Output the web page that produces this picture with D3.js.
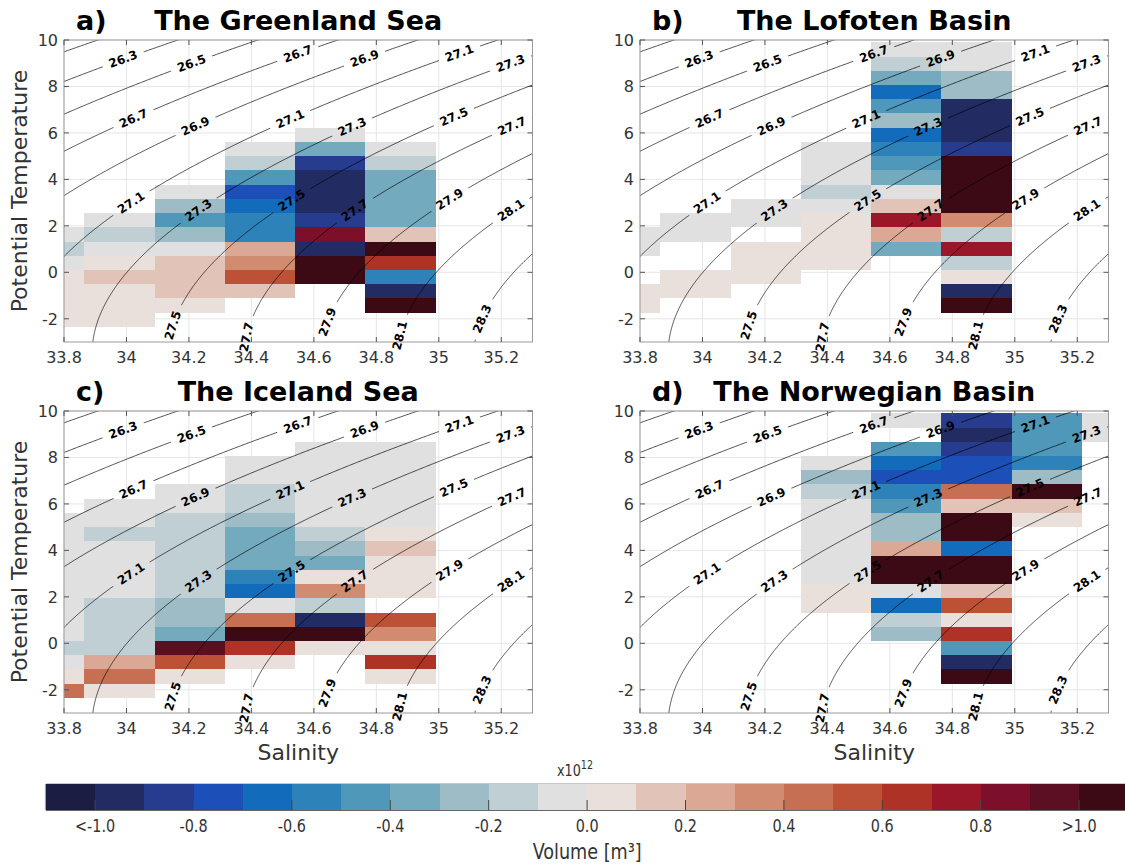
<!DOCTYPE html>
<html>
<head>
<meta charset="utf-8">
<script src="https://cdn.jsdelivr.net/npm/d3@7/dist/d3.min.js"></script>
<style>
  html, body { margin: 0; padding: 0; background: #fff; }
  svg { display: block; }
  text { font-family: "DejaVu Sans", sans-serif; }
</style>
</head>
<body>
<svg id="chart" width="1125" height="864"></svg>
<script>
// ---- T–S bin edges -------------------------------------------------------
const salinityEdges = [33.64, 33.865, 34.09, 34.315, 34.54, 34.765, 34.99, 35.215, 35.44];
const temperatureEdges = [-2.35, -1.7375, -1.125, -0.5125, 0.1, 0.7125, 1.325, 1.9375, 2.55,
  3.1625, 3.775, 4.3875, 5.0, 5.6125, 6.225, 6.8375, 7.45, 8.0625, 8.675, 9.2875, 9.9];

// ---- Volume change per bin (x10^12 m^3) ----------------------------------
// one row per temperature bin, warmest first; one column per salinity bin
const greenlandVolume = [
  [null, null, null, null, null, null, null, null],
  [null, null, null, null, null, null, null, null],
  [null, null, null, null, null, null, null, null],
  [null, null, null, null, null, null, null, null],
  [null, null, null, null, null, null, null, null],
  [null, null, null, null, null, null, null, null],
  [null, null, null, null, -0.05, null, null, null],
  [null, null, null, -0.05, -0.35, -0.05, null, null],
  [null, null, null, -0.15, -0.85, -0.15, null, null],
  [null, null, null, -0.45, -0.95, -0.35, null, null],
  [null, null, -0.05, -0.75, -0.95, -0.35, null, null],
  [null, null, -0.25, -0.65, -0.95, -0.35, null, null],
  [null, -0.05, -0.45, -0.55, -0.85, -0.35, null, null],
  [-0.05, -0.15, -0.25, -0.55, 0.85, 0.15, null, null],
  [-0.15, -0.05, -0.05, 0.25, -0.95, 1.2, null, null],
  [-0.05, 0.05, 0.15, 0.35, 1.2, 0.65, null, null],
  [0.05, 0.15, 0.15, 0.55, 1.2, -0.55, null, null],
  [0.05, 0.05, 0.15, 0.15, null, -0.95, null, null],
  [0.05, 0.05, 0.05, null, null, 1.2, null, null],
  [0.05, 0.05, null, null, null, null, null, null]
];
const lofotenVolume = [
  [null, null, null, null, -0.05, -0.05, null, null],
  [null, null, null, null, -0.15, -0.05, null, null],
  [null, null, null, null, -0.35, -0.25, null, null],
  [null, null, null, null, -0.65, -0.25, null, null],
  [null, null, null, null, -0.45, -0.95, null, null],
  [null, null, null, null, -0.25, -0.95, null, null],
  [null, null, null, null, -0.65, -0.95, null, null],
  [null, null, null, -0.05, -0.55, -0.85, null, null],
  [null, null, null, -0.05, -0.45, 1.2, null, null],
  [null, null, null, -0.05, -0.35, 1.2, null, null],
  [null, null, null, -0.15, -0.05, 1.2, null, null],
  [null, null, -0.05, -0.05, 0.15, 1.2, null, null],
  [null, -0.05, -0.05, 0.05, 0.75, 0.35, null, null],
  [-0.05, -0.05, null, 0.05, 0.25, -0.15, null, null],
  [-0.05, null, 0.05, 0.05, -0.35, 0.75, null, null],
  [null, null, 0.05, 0.05, null, -0.15, null, null],
  [null, 0.05, 0.05, null, null, 0.05, null, null],
  [0.05, 0.05, null, null, null, -0.95, null, null],
  [0.05, null, null, null, null, 1.2, null, null],
  [null, null, null, null, null, null, null, null]
];
const icelandVolume = [
  [null, null, null, null, null, null, null, null],
  [null, null, null, null, null, null, null, null],
  [null, null, null, null, -0.05, -0.05, null, null],
  [null, null, null, -0.05, -0.05, -0.05, null, null],
  [null, null, null, -0.05, -0.05, -0.05, null, null],
  [null, null, -0.05, -0.15, -0.05, -0.05, null, null],
  [null, -0.05, -0.05, -0.15, -0.05, -0.05, null, null],
  [-0.05, -0.05, -0.15, -0.25, -0.05, -0.05, null, null],
  [-0.05, -0.15, -0.15, -0.35, -0.15, 0.05, null, null],
  [-0.05, -0.05, -0.15, -0.35, -0.25, 0.15, null, null],
  [-0.05, -0.05, -0.15, -0.35, -0.35, 0.05, null, null],
  [-0.05, -0.05, -0.15, -0.55, 0.05, 0.05, null, null],
  [-0.05, -0.05, -0.15, -0.65, 0.35, 0.05, null, null],
  [-0.05, -0.15, -0.25, -0.05, -0.15, null, null, null],
  [-0.05, -0.15, -0.25, 0.45, -0.95, 0.55, null, null],
  [-0.05, -0.15, -0.35, 1.2, 1.2, 0.35, null, null],
  [-0.15, -0.15, 0.95, 0.65, 0.05, 0.05, null, null],
  [-0.05, 0.25, 0.55, 0.05, null, 0.65, null, null],
  [0.05, 0.45, 0.05, null, null, 0.05, null, null],
  [0.45, 0.05, null, null, null, null, null, null]
];
const norwegianVolume = [
  [null, null, null, null, -0.05, -0.85, -0.45, -0.05],
  [null, null, null, null, null, -0.95, -0.45, -0.05],
  [null, null, null, null, -0.45, -0.85, -0.45, null],
  [null, null, null, -0.05, -0.65, -0.75, -0.55, null],
  [null, null, null, -0.25, -0.75, -0.75, -0.25, null],
  [null, null, null, -0.15, -0.55, 0.45, 1.2, null],
  [null, null, null, -0.05, -0.45, 0.15, 0.15, null],
  [null, null, null, -0.05, -0.25, 1.2, 0.05, null],
  [null, null, null, -0.05, -0.25, 1.2, null, null],
  [null, null, null, -0.05, 0.25, -0.65, null, null],
  [null, null, null, -0.05, 1.2, 1.2, null, null],
  [null, null, null, -0.05, 1.2, 1.2, null, null],
  [null, null, null, 0.05, -0.05, 0.15, null, null],
  [null, null, null, 0.05, -0.65, 0.55, null, null],
  [null, null, null, null, -0.15, 0.05, null, null],
  [null, null, null, null, -0.25, 0.65, null, null],
  [null, null, null, null, null, -0.45, null, null],
  [null, null, null, null, null, -0.95, null, null],
  [null, null, null, null, null, 1.2, null, null],
  [null, null, null, null, null, null, null, null]
];

// ---- Axes, isopycnals and colour classes ---------------------------------
const salinityTicks = [33.8, 34, 34.2, 34.4, 34.6, 34.8, 35, 35.2];
const temperatureTicks = [-2, 0, 2, 4, 6, 8, 10];
const sigmaLevels = [26.1, 26.3, 26.5, 26.7, 26.9, 27.1, 27.3, 27.5, 27.7, 27.9, 28.1, 28.3, 28.5];
const volumeBreaks = [-1.0, -0.9, -0.8, -0.7, -0.6, -0.5, -0.4, -0.3, -0.2, -0.1, 0.0,
  0.1, 0.2, 0.3, 0.4, 0.5, 0.6, 0.7, 0.8, 0.9, 1.0];
const volumeColors = ["#1b1d43", "#222c62", "#273b8f", "#1c4fb7", "#136bbb", "#2d83b9",
  "#4f98ba", "#74aabd", "#9dbcc5", "#c0cfd4", "#e0e0e0", "#e9dfdb", "#e2c3b8", "#dba895",
  "#d18b71", "#c66f53", "#bd5136", "#ae3326", "#991728", "#7c0f2a", "#5c0f22", "#3c0a14"];
const volumeTickValues = [-1.0, -0.8, -0.6, -0.4, -0.2, 0.0, 0.2, 0.4, 0.6, 0.8, 1.0];
const volumeTickLabels = ["<-1.0", "-0.8", "-0.6", "-0.4", "-0.2", "0.0", "0.2", "0.4", "0.6", "0.8", ">1.0"];

// label placement along the isopycnals: [sigma-theta, temperature of label centre]
const isopycnalLabelSpots = [
  [26.3, 9.17], [26.5, 8.99], [26.7, 9.40], [26.9, 9.20], [27.1, 9.43], [27.3, 8.99],
  [26.7, 6.62], [26.9, 6.29], [27.1, 6.59], [27.3, 6.26], [27.5, 6.69], [27.7, 6.29],
  [27.1, 2.99], [27.3, 2.67], [27.5, 3.10], [27.7, 2.67], [27.9, 3.14], [28.1, 2.67],
  [27.5, -2.29], [27.7, -2.79], [27.9, -2.14], [28.1, -2.72], [28.3, -2.0]
];

const panels = [
  { key: "a", tag: "a)", title: "The Greenland Sea", volume: greenlandVolume, left: 64, top: 40, yTitle: true, xTitle: false },
  { key: "b", tag: "b)", title: "The Lofoten Basin", volume: lofotenVolume, left: 640, top: 40, yTitle: false, xTitle: false },
  { key: "c", tag: "c)", title: "The Iceland Sea", volume: icelandVolume, left: 64, top: 411, yTitle: true, xTitle: true },
  { key: "d", tag: "d)", title: "The Norwegian Basin", volume: norwegianVolume, left: 640, top: 411, yTitle: false, xTitle: true }
];

// ---- UNESCO EOS-80 potential density anomaly at the surface ---------------
function sigmaTheta(S, T) {
  const T2 = T * T, T3 = T2 * T, T4 = T3 * T, T5 = T4 * T;
  const rw = 999.842594 + 6.793952e-2 * T - 9.095290e-3 * T2 + 1.001685e-4 * T3
    - 1.120083e-6 * T4 + 6.536332e-9 * T5;
  const A = 8.24493e-1 - 4.0899e-3 * T + 7.6438e-5 * T2 - 8.2467e-7 * T3 + 5.3875e-9 * T4;
  const B = -5.72466e-3 + 1.0227e-4 * T - 1.6546e-6 * T2;
  const C = 4.8314e-4;
  return rw + A * S + B * S * Math.sqrt(S) + C * S * S - 1000;
}
// salinity at which the isopycnal "level" crosses temperature T (sigma rises with S)
function salinityOn(level, T) {
  let lo = 30, hi = 38;
  for (let i = 0; i < 60; i++) {
    const mid = (lo + hi) / 2;
    if (sigmaTheta(mid, T) < level) lo = mid; else hi = mid;
  }
  return (lo + hi) / 2;
}

// ---- Layout ---------------------------------------------------------------
const W = 468.5, H = 302;
const svg = d3.select("#chart");
const x = d3.scaleLinear().domain([33.8, 35.3]).range([0, W]);
const y = d3.scaleLinear().domain([-3, 10]).range([H, 0]);
const color = d3.scaleThreshold().domain(volumeBreaks).range(volumeColors);
const defs = svg.append("defs");
const fmtLevel = d3.format(".1f");

const tSamples = d3.range(-3.2, 10.21, 0.02);
const isopycnals = sigmaLevels.map(level => ({
  level,
  pts: tSamples.map(T => [salinityOn(level, T), T]).filter(p => p[0] > 33.4 && p[0] < 35.7)
}));
const line = d3.line().x(d => x(d[0])).y(d => y(d[1]));

const labelSpots = isopycnalLabelSpots.map(([level, T]) => {
  const S = salinityOn(level, T);
  const S1 = salinityOn(level, T - 0.05), S2 = salinityOn(level, T + 0.05);
  const dx = x(S2) - x(S1), dy = y(T + 0.05) - y(T - 0.05);
  return { level, px: x(S), py: y(T), angle: Math.atan2(dy, dx) * 180 / Math.PI };
});

panels.forEach(p => {
  const g = svg.append("g").attr("transform", `translate(${p.left},${p.top})`);

  defs.append("clipPath").attr("id", `clip-${p.key}`)
    .append("rect").attr("width", W).attr("height", H);

  // grid
  const grid = g.append("g").attr("stroke", "#e6e6e6").attr("stroke-width", 1);
  grid.selectAll("line.v").data(salinityTicks).join("line")
    .attr("x1", d => x(d)).attr("x2", d => x(d)).attr("y1", 0).attr("y2", H);
  grid.selectAll("line.h").data(temperatureTicks).join("line")
    .attr("y1", d => y(d)).attr("y2", d => y(d)).attr("x1", 0).attr("x2", W);

  // volume cells
  const cells = [];
  p.volume.forEach((row, i) => {
    const k = temperatureEdges.length - 2 - i;
    row.forEach((v, c) => {
      if (v === null) return;
      cells.push({ v, s0: salinityEdges[c], s1: salinityEdges[c + 1], t0: temperatureEdges[k], t1: temperatureEdges[k + 1] });
    });
  });
  g.append("g").attr("clip-path", `url(#clip-${p.key})`)
    .selectAll("rect").data(cells).join("rect")
    .attr("x", d => x(d.s0)).attr("width", d => x(d.s1) - x(d.s0))
    .attr("y", d => y(d.t1)).attr("height", d => y(d.t0) - y(d.t1))
    .attr("fill", d => color(d.v))
    .attr("shape-rendering", "crispEdges");

  // labels of isopycnals (drawn first to measure their width for the line gaps)
  const labels = g.append("g");
  const lab = labels.selectAll("text").data(labelSpots).join("text")
    .attr("transform", d => `translate(${d.px},${d.py}) rotate(${d.angle})`)
    .attr("text-anchor", "middle").attr("dominant-baseline", "central")
    .attr("font-size", 12).attr("font-weight", "bold").attr("fill", "#000")
    .text(d => fmtLevel(d.level));
  const widths = lab.nodes().map(n => n.getComputedTextLength());

  const mask = defs.append("mask").attr("id", `gap-${p.key}`)
    .attr("maskUnits", "userSpaceOnUse").attr("x", -100).attr("y", -100)
    .attr("width", W + 200).attr("height", H + 200);
  mask.append("rect").attr("x", -100).attr("y", -100).attr("width", W + 200).attr("height", H + 200).attr("fill", "#fff");
  mask.selectAll("rect.gap").data(labelSpots).join("rect").attr("class", "gap")
    .attr("x", (d, i) => -(widths[i] + 14) / 2).attr("y", -7)
    .attr("width", (d, i) => widths[i] + 14).attr("height", 14)
    .attr("transform", d => `translate(${d.px},${d.py}) rotate(${d.angle})`)
    .attr("fill", "#000");

  g.insert("g", () => labels.node())
    .attr("clip-path", `url(#clip-${p.key})`)
    .append("g").attr("mask", `url(#gap-${p.key})`)
    .selectAll("path").data(isopycnals).join("path")
    .attr("d", d => line(d.pts))
    .attr("fill", "none").attr("stroke", "#000").attr("stroke-width", 0.7);

  // frame and ticks
  const frame = g.insert("g", () => labels.node());
  frame.append("rect").attr("width", W).attr("height", H)
    .attr("fill", "none").attr("stroke", "#9a9a9a").attr("stroke-width", 1);
  const tk = frame.append("g").attr("stroke", "#555").attr("stroke-width", 1);
  salinityTicks.forEach(s => {
    tk.append("line").attr("x1", x(s)).attr("x2", x(s)).attr("y1", H).attr("y2", H - 5);
    tk.append("line").attr("x1", x(s)).attr("x2", x(s)).attr("y1", 0).attr("y2", 5);
  });
  temperatureTicks.forEach(t => {
    tk.append("line").attr("y1", y(t)).attr("y2", y(t)).attr("x1", 0).attr("x2", 5);
    tk.append("line").attr("y1", y(t)).attr("y2", y(t)).attr("x1", W).attr("x2", W - 5);
  });

  g.append("g").selectAll("text").data(salinityTicks).join("text")
    .attr("x", d => x(d)).attr("y", H + 21)
    .attr("text-anchor", "middle").attr("font-size", 16).attr("fill", "#333")
    .text(d => String(d));
  g.append("g").selectAll("text").data(temperatureTicks).join("text")
    .attr("x", -6).attr("y", d => y(d) + 6)
    .attr("text-anchor", "end").attr("font-size", 16).attr("fill", "#333")
    .text(d => String(d));

  if (p.yTitle) {
    g.append("text").attr("transform", `translate(${27 - p.left},${H / 2}) rotate(-90)`)
      .attr("text-anchor", "middle").attr("font-size", 22).attr("fill", "#333")
      .text("Potential Temperature");
  }
  if (p.xTitle) {
    g.append("text").attr("x", W / 2).attr("y", H + 47)
      .attr("text-anchor", "middle").attr("font-size", 22).attr("fill", "#333")
      .text("Salinity");
  }

  g.append("text").attr("x", 12).attr("y", -10)
    .attr("font-size", 27).attr("font-weight", "bold").attr("fill", "#000").text(p.tag);
  g.append("text").attr("x", W / 2).attr("y", -10).attr("text-anchor", "middle")
    .attr("font-size", 27).attr("font-weight", "bold").attr("fill", "#000").text(p.title);
});

// ---- Colour bar -------------------------------------------------------------
const cbLeft = 45.9, cbTop = 784, cbH = 26, cbSeg = 49.2;
const cx = d3.scaleLinear().domain([-1.1, 1.1]).range([cbLeft, cbLeft + 22 * cbSeg]);
const bounds = [-1.1, ...volumeBreaks, 1.1];
const narrow = 0.8; // horizontal squeeze for the narrow colour-bar lettering
const cb = svg.append("g");
cb.selectAll("rect.seg").data(volumeColors).join("rect").attr("class", "seg")
  .attr("x", (d, i) => cx(bounds[i])).attr("width", (d, i) => cx(bounds[i + 1]) - cx(bounds[i]) + 0.5)
  .attr("y", cbTop).attr("height", cbH).attr("fill", d => d)
  .attr("shape-rendering", "crispEdges");
cb.append("line").attr("x1", cbLeft).attr("x2", 1125).attr("y1", cbTop - 0.5).attr("y2", cbTop - 0.5)
  .attr("stroke", "#c8c8c8").attr("stroke-width", 1);
cb.append("line").attr("x1", cbLeft).attr("x2", 1125).attr("y1", cbTop + cbH + 0.5).attr("y2", cbTop + cbH + 0.5)
  .attr("stroke", "#666").attr("stroke-width", 1);
cb.append("line").attr("x1", cbLeft - 0.5).attr("x2", cbLeft - 0.5).attr("y1", cbTop).attr("y2", cbTop + cbH)
  .attr("stroke", "#999").attr("stroke-width", 1);
cb.selectAll("line.tick").data(volumeTickValues).join("line").attr("class", "tick")
  .attr("x1", d => cx(d)).attr("x2", d => cx(d)).attr("y1", cbTop + cbH).attr("y2", cbTop + cbH - 10)
  .attr("stroke", "#444").attr("stroke-width", 1);
cb.selectAll("text.lbl").data(volumeTickValues).join("text").attr("class", "lbl")
  .attr("transform", d => `translate(${cx(d)},${cbTop + cbH + 22}) scale(${narrow},1)`)
  .attr("text-anchor", "middle").attr("font-size", 18).attr("fill", "#333")
  .text((d, i) => volumeTickLabels[i]);
const exp = cb.append("text").attr("transform", `translate(575,776) scale(${narrow},1)`)
  .attr("text-anchor", "middle").attr("font-size", 16).attr("fill", "#333");
exp.append("tspan").text("x10");
exp.append("tspan").attr("dy", -7).attr("font-size", 12).text("12");
cb.append("text").attr("transform", `translate(${cx(0)},859) scale(${narrow},1)`)
  .attr("text-anchor", "middle").attr("font-size", 22).attr("fill", "#333")
  .text("Volume [m³]");
</script>
</body>
</html>
